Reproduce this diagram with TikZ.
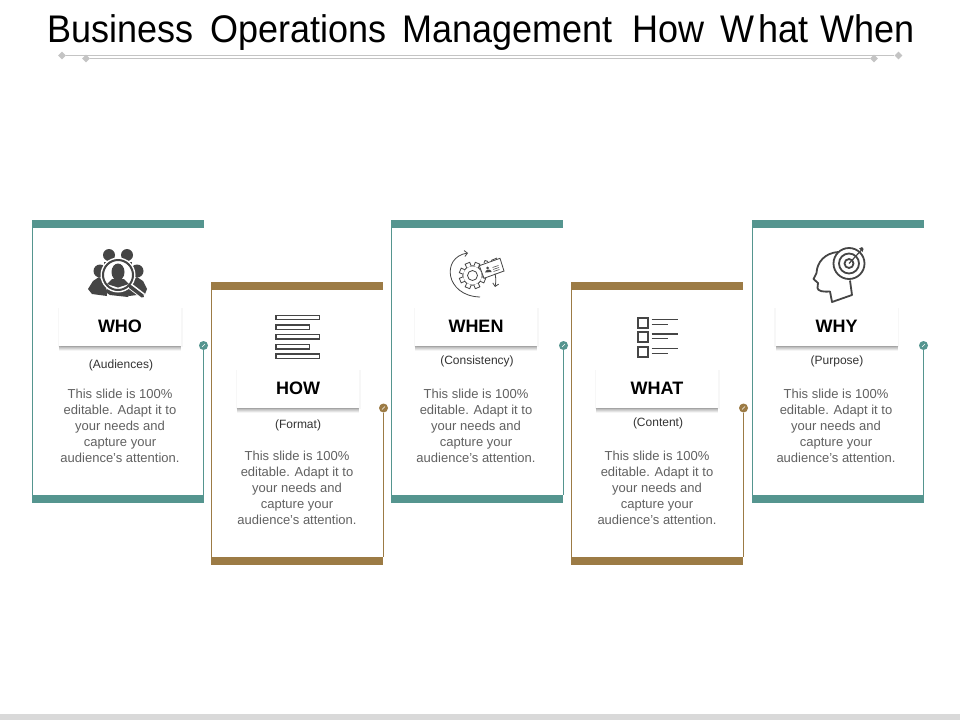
\documentclass[tikz,border=0pt]{standalone}
\usepackage{fontspec}
\setmainfont{Liberation Sans}
\usetikzlibrary{shadows,arrows.meta,shapes.geometric}

\definecolor{tealc}{HTML}{55958F}
\definecolor{brownc}{HTML}{9C7B45}
\definecolor{iconc}{HTML}{454545}
\definecolor{rulec}{HTML}{C4C4C4}

\tikzset{
	tealbar/.style={fill=tealc,minimum width=172pt,minimum height=8pt,inner sep=0pt},
	brownbar/.style={fill=brownc,minimum width=172pt,minimum height=8pt,inner sep=0pt},
	tealdot/.style={circle,fill=tealc,minimum size=9pt,inner sep=0pt},
	browndot/.style={circle,fill=brownc,minimum size=9pt,inner sep=0pt},
	headbox/.style={fill=white,minimum width=122pt,minimum height=39pt,inner sep=0pt,
		font=\fontsize{18}{20}\selectfont\bfseries,
		general shadow={shadow yshift=-5pt,fill=black,opacity=.04},
		general shadow={shadow yshift=-4pt,fill=black,opacity=.07},
		general shadow={shadow yshift=-3pt,fill=black,opacity=.08},
		general shadow={shadow yshift=-2pt,fill=black,opacity=.08},
		general shadow={shadow yshift=-1pt,fill=black,opacity=.08},
		general shadow={shadow xshift=1.5pt,shadow yshift=-1pt,fill=black,opacity=.03},
		general shadow={shadow xshift=-1.5pt,shadow yshift=-1pt,fill=black,opacity=.03}},
	sublabel/.style={font=\fontsize{12}{14}\selectfont,text=black!80,inner sep=0pt},
	bodytext/.style={font=\fontsize{13}{16}\selectfont,text=black!62,align=center,inner sep=0pt},
	iconline/.style={draw=iconc,line width=1.4pt},
	diam/.style={diamond,fill=rulec,minimum width=8pt,minimum height=8pt,inner sep=0pt}
}

\newcommand{\cardtext}{This slide is 100\%\\editable. Adapt it to\\your needs and\\capture your\\audience's attention.}

\begin{document}
\begin{tikzpicture}[x=1pt,y=-1pt]
	\useasboundingbox (0,0) rectangle (960,720);
	\fill[white] (0,0) rectangle (960,720);
	\fill[black!15] (0,714) rectangle (960,720);

	% title
	\node (title) at (481,42) [anchor=base] {\scalebox{.935}[1]{\fontsize{38.5}{42}\selectfont Business\hspace{7pt} Operations\hspace{7pt} Management\hspace{10pt} How\hspace{7pt} W\kern4pt hat\hspace{2pt} W\kern0pt hen}};
	\node (ruleal) at (62,55.5) [diam] {};
	\node (ruleah) at (898.5,55.5) [diam] {};
	\node (rulebl) at (86,58.5) [diam] {};
	\node (rulebr) at (874,58.5) [diam] {};
	\draw[rulec,line width=1.2pt] (ruleal) -- (ruleah);
	\draw[rulec,line width=1.2pt] (rulebl) -- (rulebr);

	% who
	\node (whobar) at (118,224) [tealbar] {};
	\node (whofoot) at (118,499) [tealbar] {};
	\node (whodot) at (203.5,345.5) [tealdot] {};
	\draw[tealc,line width=1.2pt] (whobar.south west) ++(.5,0) coordinate (whol) -- (whofoot.north west -| whol);
	\draw[tealc,line width=1.2pt] (whodot) -- (whofoot.north east -| whodot);
	\draw[white,line width=.5pt] (202,347) -- (205,344);
	\node (whobox) at (120,326.5) [headbox] {WHO};
	\node (whosub) at (121,365.5) [sublabel] {(Audiences)};
	\node (whotext) at (120,425.5) [bodytext] {\cardtext};

	% how
	\node (howbar) at (297,286) [brownbar] {};
	\node (howfoot) at (297,561) [brownbar] {};
	\node (howdot) at (383.5,408) [browndot] {};
	\draw[brownc,line width=1.2pt] (howbar.south west) ++(.5,0) coordinate (howl) -- (howfoot.north west -| howl);
	\draw[brownc,line width=1.2pt] (howdot) -- (howfoot.north east -| howdot);
	\draw[white,line width=.5pt] (382,409.5) -- (385,406.5);
	\node (howbox) at (298,388.5) [headbox] {HOW};
	\node (howsub) at (298,425.5) [sublabel] {(Format)};
	\node (howtext) at (297,487.5) [bodytext] {\cardtext};

	% when
	\node (whenbar) at (477,224) [tealbar] {};
	\node (whenfoot) at (477,499) [tealbar] {};
	\node (whendot) at (563.5,345.5) [tealdot] {};
	\draw[tealc,line width=1.2pt] (whenbar.south west) ++(.5,0) coordinate (whenl) -- (whenfoot.north west -| whenl);
	\draw[tealc,line width=1.2pt] (whendot) -- (whenfoot.north east -| whendot);
	\draw[white,line width=.5pt] (562,347) -- (565,344);
	\node (whenbox) at (476,326.5) [headbox] {WHEN};
	\node (whensub) at (477,361.5) [sublabel] {(Consistency)};
	\node (whentext) at (476,425.5) [bodytext] {\cardtext};

	% what
	\node (whatbar) at (657,286) [brownbar] {};
	\node (whatfoot) at (657,561) [brownbar] {};
	\node (whatdot) at (743.5,408) [browndot] {};
	\draw[brownc,line width=1.2pt] (whatbar.south west) ++(.5,0) coordinate (whatl) -- (whatfoot.north west -| whatl);
	\draw[brownc,line width=1.2pt] (whatdot) -- (whatfoot.north east -| whatdot);
	\draw[white,line width=.5pt] (742,409.5) -- (745,406.5);
	\node (whatbox) at (657,388.5) [headbox] {WHAT};
	\node (whatsub) at (658,423.5) [sublabel] {(Content)};
	\node (whattext) at (657,487.5) [bodytext] {\cardtext};

	% why
	\node (whybar) at (838,224) [tealbar] {};
	\node (whyfoot) at (838,499) [tealbar] {};
	\node (whydot) at (923.5,345.5) [tealdot] {};
	\draw[tealc,line width=1.2pt] (whybar.south west) ++(.5,0) coordinate (whyl) -- (whyfoot.north west -| whyl);
	\draw[tealc,line width=1.2pt] (whydot) -- (whyfoot.north east -| whydot);
	\draw[white,line width=.5pt] (922,347) -- (925,344);
	\node (whybox) at (836.5,326.5) [headbox] {WHY};
	\node (whysub) at (837,361.5) [sublabel] {(Purpose)};
	\node (whytext) at (836,425.5) [bodytext] {\cardtext};

	% who icon
	\fill[iconc] (109,255) circle (6);
	\fill[iconc] (127,255) circle (6);
	\fill[iconc] (100,271) circle (6.5);
	\fill[iconc] (137,271) circle (6.5);
	\fill[iconc] (104,262) -- (132,262) -- (132,285) -- (104,285) -- cycle;
	\fill[iconc] (88,289) -- (93,281) -- (99,277) -- (106,283) -- (107,296) -- (92,294) -- cycle;
	\fill[iconc] (147,289) -- (143,281) -- (137,277) -- (130,283) -- (129,296) -- (145,294) -- cycle;
	\fill[iconc] (104,291) -- (110,295) -- (128,297) -- (132,290) -- (118,284) -- cycle;
	\fill[white] (118,275) circle (17.5);
	\draw[iconc,line width=2pt] (118,275) circle (15);
	\fill[iconc] (118,272) ellipse (6.5 and 8.5);
	\fill[iconc] (107,284) -- (112,279) -- (124,279) -- (129,284) -- (118,287.5) -- cycle;
	\draw[white,line width=6pt] (130,286) -- (143,296);
	\draw[iconc,line width=3.5pt,line cap=round] (130,286.5) -- (142.5,296);

	% how icon
	\draw[iconline] (276,315.5) rectangle (319.5,319.5);
	\draw[iconline] (276,325) rectangle (309.5,329.5);
	\draw[iconline] (276,334.5) rectangle (319.5,339);
	\draw[iconline] (276,344.5) rectangle (309.5,349);
	\draw[iconline] (276,354) rectangle (319.5,358.5);

	% when icon
	\coordinate (gear) at (472.5,275.5);
	\draw[draw=iconc,line width=.8pt] (gear) circle (9.7);
	\draw[draw=iconc,line width=.8pt] (gear) circle (5);
	\foreach \a in {0,45,...,315}
		\draw[draw=iconc,line width=.8pt,fill=white,shift={(gear)}] (\a+8:9.6) -- (\a+12:13.5) -- (\a+33:13.5) -- (\a+37:9.6);
	\draw[draw=iconc,line width=.8pt,-{Straight Barb[length=3pt,width=6pt]}] (480,297) .. controls (445,296) and (441,257) .. (468,253);
	\draw[draw=iconc,line width=.8pt,fill=white] (479.3,265.7) -- (500,258.3) -- (504,271) -- (484,278.3) -- cycle;
	\draw[draw=iconc,line width=.8pt] (484,263) -- (485,260.5) -- (488,261.5);
	\draw[draw=iconc,line width=.8pt] (491,260.5) -- (497,258);
	\draw[draw=iconc,line width=.8pt,-{Straight Barb[length=3pt,width=6pt]}] (495,273.5) .. controls (496,278) and (496,282) .. (495,287);
	\fill[iconc] (485,272.5) -- (486,270.5) -- (489,269.5) -- (491,270.5) -- (491.5,272) -- cycle;
	\fill[iconc] (487.5,268) circle (1.5);
	\draw[draw=iconc,line width=.5pt] (492.5,267.5) -- (498.5,265.5);
	\draw[draw=iconc,line width=.5pt] (493,269.5) -- (499,267.5);
	\draw[draw=iconc,line width=.5pt] (493.5,271.5) -- (499.5,269.5);

	% what icon
	\draw[draw=iconc,line width=2pt] (637.5,317.5) rectangle (647.5,327.5);
	\draw[draw=iconc,line width=2pt] (637.5,332) rectangle (647.5,342);
	\draw[draw=iconc,line width=2pt] (637.5,346.5) rectangle (647.5,356.5);
	\draw[draw=iconc,line width=1.6pt] (651.5,319.5) -- (677.5,319.5);
	\draw[draw=iconc,line width=1.6pt] (651.5,324.5) -- (667.5,324.5);
	\draw[draw=iconc,line width=1.6pt] (651.5,334) -- (677.5,334);
	\draw[draw=iconc,line width=1.6pt] (651.5,338.5) -- (667.5,338.5);
	\draw[draw=iconc,line width=1.6pt] (651.5,348.5) -- (677.5,348.5);
	\draw[draw=iconc,line width=1.6pt] (651.5,353.5) -- (667.5,353.5);

	% why icon
	\coordinate (target) at (849,263.5);
	\draw[draw=iconc,line width=1.8pt,line join=round] (838,252) .. controls (825,253) and (817,262) .. (816.5,273) -- (813.5,279) -- (818,283) -- (817.5,288) .. controls (818,291) and (822,292) .. (830,291.5) -- (832,302) -- (852,295) -- (850,280.5);
	\draw[draw=iconc,line width=1.8pt] (target) circle (15.5);
	\draw[draw=iconc,line width=1.8pt] (target) circle (10);
	\draw[draw=iconc,line width=1.8pt] (target) circle (4.5);
	\draw[draw=iconc,line width=1.2pt] (target) -- (861,250.5);
	\fill[iconc] (859,248.5) -- (862,247) -- (863.5,249) -- (862.5,252) -- cycle;
\end{tikzpicture}
\end{document}
